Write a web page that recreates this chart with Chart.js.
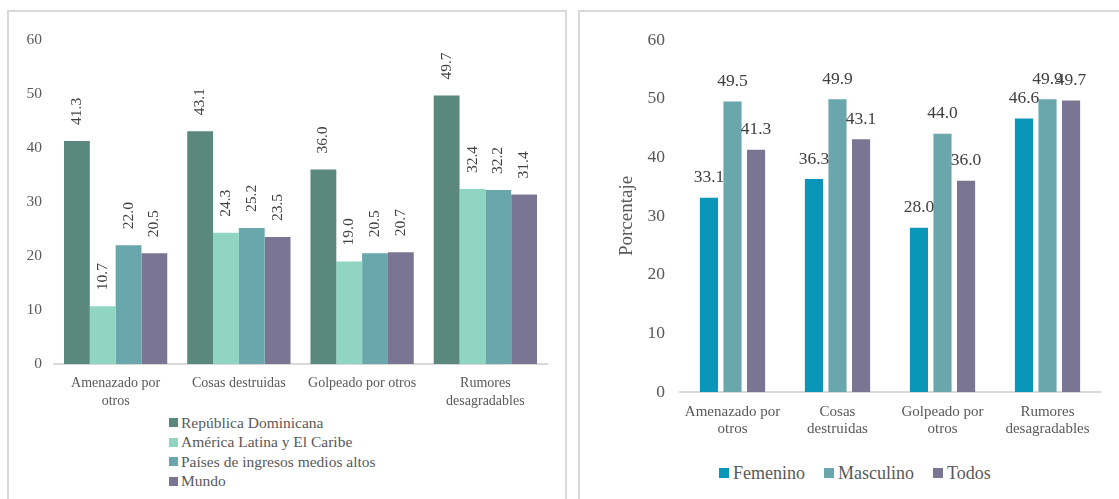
<!DOCTYPE html>
<html>
<head>
<meta charset="utf-8">
<script src="https://cdn.jsdelivr.net/npm/chart.js@4.4.0/dist/chart.umd.min.js"></script>
<style>
  body { margin: 0; width: 1119px; height: 499px; background: #fff; position: relative; overflow: hidden;
         font-family: "Liberation Serif", "Times New Roman", serif; }
  .panel { position: absolute; border: 2px solid #d9d9d9; box-sizing: border-box; }
  canvas { position: absolute; }
  .legend { position: absolute; color: #595959; font-family: "Liberation Serif", "Times New Roman", serif; }
  .legend .item { display: flex; align-items: center; white-space: nowrap; }
  .legend .sw { display: inline-block; flex: none; }
</style>
</head>
<body>
<div class="panel" style="left:7px;top:10px;width:560px;height:520px"></div>
<div class="panel" style="left:578px;top:10px;width:560px;height:520px"></div>
<canvas id="cL" width="556" height="400" style="left:10px;top:12px"></canvas>
<canvas id="cR" width="530" height="440" style="left:583px;top:12px"></canvas>
<div id="legL" class="legend" style="left:169px;top:413px;font-size:15.5px"></div>
<div id="legR" class="legend" style="left:719px;top:462px;font-size:18px;display:flex;gap:19px"></div>
<script>
// Left chart: comparison by region
const categoriasL = [["Amenazado por", "otros"], "Cosas destruidas", "Golpeado por otros", ["Rumores", "desagradables"]];
const seriesL = ["República Dominicana", "América Latina y El Caribe", "Países de ingresos medios altos", "Mundo"];
const republicaDominicana = [41.3, 43.1, 36.0, 49.7];
const americaLatina = [10.7, 24.3, 19.0, 32.4];
const ingresosMediosAltos = [22.0, 25.2, 20.5, 32.2];
const mundo = [20.5, 23.5, 20.7, 31.4];
const coloresL = ["#5A887C", "#8FD5C1", "#69A7AD", "#7B7594"];

// Right chart: República Dominicana by sex
const categoriasR = [["Amenazado por", "otros"], ["Cosas", "destruidas"], ["Golpeado por", "otros"], ["Rumores", "desagradables"]];
const seriesR = ["Femenino", "Masculino", "Todos"];
const femenino = [33.1, 36.3, 28.0, 46.6];
const masculino = [49.5, 49.9, 44.0, 49.9];
const todos = [41.3, 43.1, 36.0, 49.7];
const coloresR = ["#0A96B9", "#69A7AD", "#7B7594"];

const ticksY = [0, 10, 20, 30, 40, 50, 60];

const SERIF = '"Liberation Serif", "Times New Roman", serif';

// Value labels above each bar (optionally rotated)
const etiquetas = {
  id: 'etiquetas',
  afterDatasetsDraw(chart, args, opts) {
    const ctx = chart.ctx;
    ctx.save();
    ctx.font = opts.font;
    ctx.fillStyle = opts.color;
    chart.data.datasets.forEach((ds, di) => {
      const meta = chart.getDatasetMeta(di);
      meta.data.forEach((bar, i) => {
        const txt = ds.data[i].toFixed(1);
        if (opts.rotate) {
          ctx.save();
          ctx.translate(bar.x, bar.y - opts.offset);
          ctx.rotate(-Math.PI / 2);
          ctx.textAlign = 'left';
          ctx.textBaseline = 'middle';
          ctx.fillText(txt, 0, 0);
          ctx.restore();
        } else {
          ctx.textAlign = 'center';
          ctx.textBaseline = 'middle';
          ctx.fillText(txt, bar.x, bar.y - opts.offset);
        }
      });
    });
    ctx.restore();
  }
};

function ejeY(size, padding, width, title) {
  return {
    min: 0, max: 60,
    afterBuildTicks: s => { s.ticks = ticksY.map(v => ({ value: v })); },
    grid: { display: false, drawTicks: false },
    border: { display: false },
    ticks: { color: '#595959', font: { family: SERIF, size: size }, padding: padding },
    title: title,
    afterFit: s => { s.width = width; }
  };
}

function ejeX(size, lh, padding, height) {
  return {
    grid: { display: false, drawTicks: false },
    border: { display: true, color: '#d9d9d9', width: 2 },
    ticks: { color: '#595959', font: { family: SERIF, size: size, lineHeight: lh }, padding: padding,
             maxRotation: 0, autoSkip: false },
    afterFit: s => { s.height = height; }
  };
}

new Chart(document.getElementById('cL'), {
  type: 'bar',
  data: {
    labels: categoriasL,
    datasets: [republicaDominicana, americaLatina, ingresosMediosAltos, mundo].map((d, i) => ({
      label: seriesL[i], data: d, backgroundColor: coloresL[i], borderWidth: 0,
      categoryPercentage: 0.838, barPercentage: 1
    }))
  },
  plugins: [etiquetas],
  options: {
    responsive: false, animation: false, events: [],
    layout: { padding: { top: 28, right: 19, left: 0, bottom: 0 } },
    plugins: {
      legend: { display: false }, tooltip: { enabled: false },
      etiquetas: { rotate: true, offset: 16, font: '15.5px ' + SERIF, color: '#404040' }
    },
    scales: {
      x: ejeX(14, 1.25, 11, 48),
      y: ejeY(15.5, 12, 44, { display: false })
    }
  }
});

new Chart(document.getElementById('cR'), {
  type: 'bar',
  data: {
    labels: categoriasR,
    datasets: [femenino, masculino, todos].map((d, i) => ({
      label: seriesR[i], data: d, backgroundColor: coloresR[i], borderWidth: 0,
      categoryPercentage: 0.673, barPercentage: 0.77
    }))
  },
  plugins: [etiquetas],
  options: {
    responsive: false, animation: false, events: [],
    layout: { padding: { top: 28, right: 13, left: 0, bottom: 0 } },
    plugins: {
      legend: { display: false }, tooltip: { enabled: false },
      etiquetas: { rotate: false, offset: 20, font: '17.5px ' + SERIF, color: '#404040' }
    },
    scales: {
      x: ejeX(15, 1.17, 11, 60),
      y: ejeY(17.5, 15, 97, {
        display: true, text: 'Porcentaje', color: '#595959',
        font: { family: SERIF, size: 19 }, padding: { top: 33, bottom: 0 }
      })
    }
  }
});

// Legends built from the series names and colours
function leyenda(el, names, colors, sq, rowH, gap) {
  names.forEach((n, i) => {
    const it = document.createElement('div');
    it.className = 'item';
    if (rowH) it.style.height = rowH + 'px';
    const sw = document.createElement('span');
    sw.className = 'sw';
    sw.style.width = sq + 'px';
    sw.style.height = sq + 'px';
    sw.style.background = colors[i];
    sw.style.marginRight = gap + 'px';
    const t = document.createElement('span');
    t.textContent = n;
    it.appendChild(sw);
    it.appendChild(t);
    el.appendChild(it);
  });
}
leyenda(document.getElementById('legL'), seriesL, coloresL, 9, 19.5, 3);
leyenda(document.getElementById('legR'), seriesR, coloresR, 10, 22, 4);
</script>
</body>
</html>
